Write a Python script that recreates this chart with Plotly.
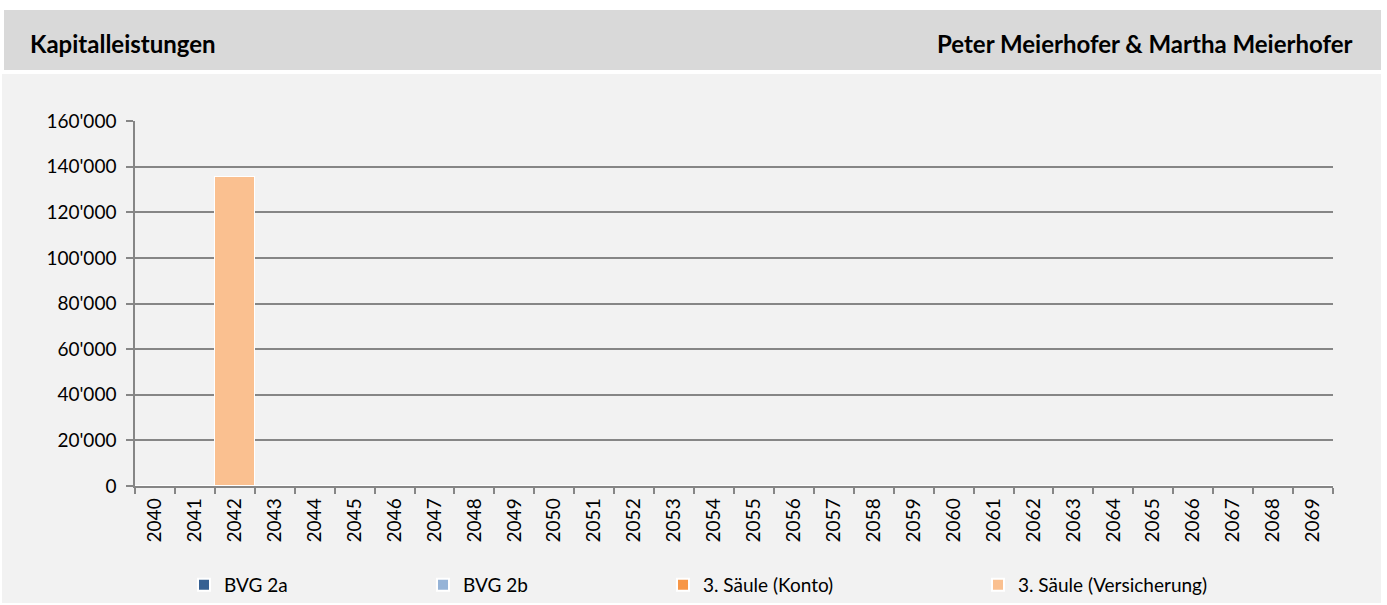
import plotly.graph_objects as go

years = [str(y) for y in range(2040, 2070)]
series_names = ["BVG 2a", "BVG 2b", "3. Säule (Konto)", "3. Säule (Versicherung)"]
bvg2a = [0] * 30
bvg2b = [0] * 30
saeule_konto = [0] * 30
saeule_vers = [0, 0, 135500] + [0] * 27
colors = ["#366092", "#95b3d7", "#f79646", "#fac090"]
y_tickvals = [0, 20000, 40000, 60000, 80000, 100000, 120000, 140000, 160000]
y_ticktext = ["0", "20'000", "40'000", "60'000", "80'000", "100'000", "120'000", "140'000", "160'000"]
title_left = "Kapitalleistungen"
title_right = "Peter Meierhofer & Martha Meierhofer"

W, H = 1387, 605
L, R, T, B = 135, 1333, 121, 486

def px(x):
    return (x - L) / (R - L)

def py(y):
    return (B - y) / (B - T)

# legend anchor positions (pixels) for each series
legend_px = [184, 423, 663, 978]
legend_ids = ["legend", "legend2", "legend3", "legend4"]

fig = go.Figure()
for name, vals, col, lid in zip(series_names, [bvg2a, bvg2b, saeule_konto, saeule_vers], colors, legend_ids):
    fig.add_trace(go.Bar(
        x=years, y=vals, name=name, legend=lid,
        marker=dict(color=col, line=dict(color="white", width=1)),
    ))

font = "Lato, 'Open Sans', sans-serif"
legend_common = dict(
    orientation="h", xanchor="left", y=py(585), yanchor="middle",
    bgcolor="rgba(0,0,0,0)", font=dict(size=19, family=font, color="#000000"),
    itemsizing="constant",
)
legend_layout = {lid: dict(x=px(xp), **legend_common) for lid, xp in zip(legend_ids, legend_px)}

fig.update_layout(
    width=W, height=H,
    barmode="stack", bargap=0.0,
    margin=dict(l=L, r=W - R, t=T, b=H - B, autoexpand=False),
    paper_bgcolor="white", plot_bgcolor="white",
    font=dict(family=font, size=19, color="#000000"),
    showlegend=True,
    xaxis=dict(
        type="category", tickangle=-90, showgrid=False,
        showline=True, linecolor="#868686", linewidth=1.5,
        ticks="outside", tickson="boundaries", ticklen=6, tickcolor="#868686", tickwidth=1.5,
        tickfont=dict(size=19), ticklabelstandoff=3,
    ),
    yaxis=dict(
        range=[0, 160000], tickvals=y_tickvals, ticktext=y_ticktext,
        showgrid=True, gridcolor="#868686", gridwidth=1.5,
        showline=True, linecolor="#868686", linewidth=1.5,
        ticks="outside", ticklen=7, tickcolor="#868686", tickwidth=1.5,
        tickfont=dict(size=19), zeroline=False, ticklabelstandoff=6,
    ),
    shapes=[
        dict(type="rect", xref="paper", yref="paper", layer="below",
             x0=px(4), x1=px(1381), y0=py(70), y1=py(10),
             fillcolor="#d9d9d9", line=dict(width=0)),
        dict(type="rect", xref="paper", yref="paper", layer="below",
             x0=px(2), x1=px(1381), y0=py(603), y1=py(74),
             fillcolor="#f2f2f2", line=dict(width=0)),
    ],
    annotations=[
        dict(text="<b>%s</b>" % title_left, xref="paper", yref="paper",
             x=px(28), y=py(43), xanchor="left", yanchor="middle",
             showarrow=False, font=dict(size=24, family=font, color="#000000")),
        dict(text="<b>%s</b>" % title_right, xref="paper", yref="paper",
             x=px(1355), y=py(43), xanchor="right", yanchor="middle",
             showarrow=False, font=dict(size=24, family=font, color="#000000")),
    ],
    **legend_layout,
)

fig.write_html("out.html", config={"displayModeBar": False},
               post_script="document.body.style.margin='0';")
